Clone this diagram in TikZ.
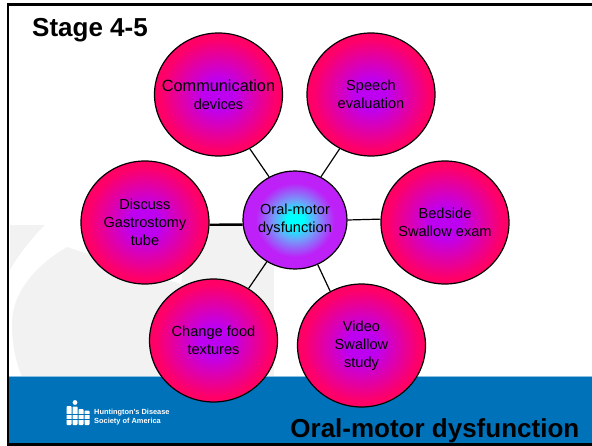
\documentclass[tikz,border=0pt]{standalone}
\usepackage{fontspec}
\setmainfont{Liberation Sans}
\usetikzlibrary{shapes.geometric}
\definecolor{pk}{HTML}{FF0066}
\definecolor{pv}{HTML}{BE00F0}
\definecolor{cy}{HTML}{00FFFF}
\definecolor{hubv}{HTML}{BE20F8}
\definecolor{hubm}{HTML}{70A0FA}
\definecolor{band}{HTML}{0072BA}
\definecolor{wm}{HTML}{F2F2F2}
\pgfdeclareradialshading{petal}{\pgfpoint{0bp}{0bp}}{color(0bp)=(pv); color(6bp)=(pv); color(23bp)=(pk); color(50bp)=(pk)}
\pgfdeclareradialshading{hub}{\pgfpoint{0bp}{0bp}}{color(0bp)=(cy); color(4bp)=(cy); color(10bp)=(hubm); color(19bp)=(hubv); color(50bp)=(hubv)}
\tikzset{
  petalnode/.style={ellipse, draw=black, line width=1.2pt, shading=petal, minimum width=128pt, minimum height=123pt, inner sep=-18pt, align=center, font=\fontsize{14.6}{18}\selectfont, text=black},
  hubnode/.style={ellipse, draw=black, line width=1.2pt, shading=hub, minimum width=104pt, minimum height=98pt, inner sep=-10pt, align=center, font=\fontsize{14.6}{18}\selectfont, text=black},
  link/.style={draw=black, line width=1.2pt},
  thicklink/.style={draw=black, line width=2.4pt},
  frameline/.style={draw=black, line width=2.4pt},
  titletext/.style={inner sep=0pt, font=\fontsize{26}{30}\selectfont\bfseries, text=black},
  logotext/.style={inner sep=0pt, anchor=west, text=white, font=\fontsize{7.4}{8.8}\selectfont\bfseries, align=left},
  logobar/.style={fill=white, draw=none, rounded corners=0.8pt}
}
\begin{document}
\begin{tikzpicture}[x=1pt,y=-1pt]
\useasboundingbox (0,0) rectangle (592,446);
\fill[white] (0,0) rectangle (592,446);
% watermark
\fill[wm] (10,225) rectangle (274,377);
\fill[white] (45,225) .. controls (30,240) and (18,256) .. (10,270) -- (10,377) -- (22,377)
  .. controls (15,360) and (12,345) .. (12,323) .. controls (12,290) and (40,262) .. (67,247)
  -- (181,284) -- (190,225) -- cycle;
% band
\fill[band] (8,377) rectangle (592,445);
\draw[color=band!45!white, line width=0.8pt] (8,376.6) -- (592,376.6);
% frame
\draw[frameline] (592,4.7) -- (7.8,4.7) -- (7.8,444.6) -- (592,444.6);
% nodes
\node[hubnode] (hub) at (295,220) {Oral-motor\\dysfunction};
\node[petalnode] (comm) at (218.5,94.5) {\fontsize{16.3}{18.5}\selectfont Communication\\devices};
\node[petalnode] (speech) at (371,94.5) {Speech\\evaluation};
\node[petalnode] (bedside) at (445,222.5) {Bedside\\Swallow exam};
\node[petalnode] (gastro) at (145,222.5) {Discuss\\Gastrostomy\\tube};
\node[petalnode] (food) at (213.5,340.5) {Change food\\textures};
\node[petalnode] (video) at (361.5,345.5) {Video\\Swallow\\study};
% connectors
\draw[link] (comm.-60) -- (hub.121);
\draw[link] (speech.240) -- (hub.59);
\draw[link] (bedside.177) -- (hub.0);
\draw[thicklink] (gastro.-2) -- (hub.185);
\draw[link] (food.56) -- (hub.236);
\draw[link] (video.120) -- (hub.-63);
% titles
\node[titletext, anchor=base west] (stage) at (32,37) {Stage 4-5};
\node[titletext, anchor=base east] (foot) at (579.5,437) {Oral-motor dysfunction};
% logo
\fill[white] (75,402.5) circle (2.4pt);
\foreach \x/\t/\h in {66.5/406/425, 72.5/406.5/425, 78.5/409/425, 84.5/410.5/425}{
  \fill[logobar] (\x,\t) rectangle ++(5,{\h-\t});
}
\foreach \y in {414,419}{\fill[band] (66,\y) rectangle (91,\y+0.8);}
\node[logotext] (logo) at (94,417) {Huntington's Disease\\Society of America};
\end{tikzpicture}
\end{document}
